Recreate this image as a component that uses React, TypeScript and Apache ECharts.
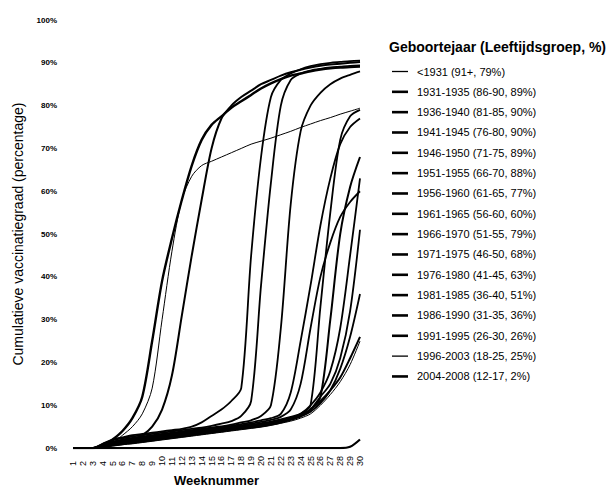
import React, { useEffect, useRef } from "react";
import * as echarts from "echarts";

const weeks = ["1","2","3","4","5","6","7","8","9","10","11","12","13","14","15","16","17","18","19","20","21","22","23","24","25","26","27","28","29","30"];

const groupNames = [
  "<1931 (91+, 79%)",
  "1931-1935 (86-90, 89%)",
  "1936-1940 (81-85, 90%)",
  "1941-1945 (76-80, 90%)",
  "1946-1950 (71-75, 89%)",
  "1951-1955 (66-70, 88%)",
  "1956-1960 (61-65, 77%)",
  "1961-1965 (56-60, 60%)",
  "1966-1970 (51-55, 79%)",
  "1971-1975 (46-50, 68%)",
  "1976-1980 (41-45, 63%)",
  "1981-1985 (36-40, 51%)",
  "1986-1990 (31-35, 36%)",
  "1991-1995 (26-30, 26%)",
  "1996-2003 (18-25, 25%)",
  "2004-2008 (12-17, 2%)",
];

const yLt1931 = [0,0,0,0.3,1.2,3,5,8,14,30,46,58,63.5,66,67,68,69,70,71,71.7,72.4,73.2,74,74.9,75.7,76.5,77.2,78,78.7,79.4];
const y1931 = [0,0,0,0.5,2,4,7,12,25,39,49,58,66,72,75.5,77.5,79.5,81,82.5,84,85.2,86.2,87,87.5,88,88.4,88.7,88.9,89,89.1];
const y1936 = [0,0,0,0.3,1,1.5,2,3,5,9,17,31,45,58,70,77,80,82,83.5,85,86,87,87.8,88.4,88.9,89.3,89.6,89.8,90,90.2];
const y1941 = [0,0,0,1,2,2.5,3,3.3,3.6,3.9,4.2,4.5,5,6,7.5,9,11,14,45,68,82,86,87.5,88.5,89.2,89.7,90,90.2,90.4,90.5];
const y1946 = [0,0,0,1,1.8,2.3,2.7,3,3.3,3.6,3.9,4.2,4.5,4.8,5.2,5.7,6.3,7.5,11,38,62,80,86,87.5,88.2,88.6,88.9,89.1,89.3,89.4];
const y1951 = [0,0,0,0.8,1.5,2,2.4,2.7,3,3.3,3.6,3.9,4.2,4.5,4.8,5.1,5.5,6,6.5,7.5,10,28,57,74,80,83,85,86.3,87.2,88];
const y1956 = [0,0,0,0.7,1.4,1.9,2.2,2.5,2.8,3.1,3.4,3.7,4,4.3,4.6,4.9,5.2,5.6,6,6.5,7,8,13,25,38,52,63,71,75,77];
const y1961 = [0,0,0,0.6,1.2,1.7,2,2.3,2.6,2.9,3.2,3.5,3.8,4.1,4.4,4.7,5,5.3,5.7,6.1,6.6,7.3,9,15,28,40,48,54,57.5,60];
const y1966 = [0,0,0,0.5,1.1,1.5,1.8,2.1,2.4,2.7,3,3.3,3.6,3.9,4.2,4.5,4.8,5.1,5.4,5.8,6.2,6.7,7.3,8,10,33,55,72,77.5,79];
const y1971 = [0,0,0,0.5,1,1.4,1.7,2,2.3,2.6,2.9,3.2,3.5,3.8,4.1,4.4,4.7,5,5.3,5.6,6,6.5,7,7.8,9,12,30,50,61,68];
const y1976 = [0,0,0,0.4,0.9,1.3,1.6,1.9,2.2,2.5,2.8,3.1,3.4,3.7,4,4.3,4.6,4.9,5.2,5.5,5.9,6.4,7,8,10,13,18,28,45,63];
const y1981 = [0,0,0,0.4,0.8,1.2,1.5,1.8,2.1,2.4,2.7,3,3.3,3.6,3.9,4.2,4.5,4.8,5.1,5.4,5.8,6.3,6.9,7.6,9,12,15,21,32,51];
const y1986 = [0,0,0,0.3,0.7,1,1.3,1.6,1.9,2.2,2.5,2.8,3.1,3.4,3.7,4,4.3,4.6,4.9,5.2,5.6,6.1,6.7,7.4,8.5,10.5,13.5,18.5,26,36];
const y1991 = [0,0,0,0.3,0.6,0.9,1.2,1.5,1.8,2.1,2.4,2.7,3,3.3,3.6,3.9,4.2,4.5,4.8,5.1,5.5,6,6.6,7.4,9,11,13.5,16.5,21,26];
const y1996 = [0,0,0,0.2,0.5,0.8,1,1.3,1.6,1.9,2.2,2.5,2.8,3.1,3.4,3.7,4,4.3,4.6,4.9,5.3,5.8,6.3,7,8,10,12.5,15.5,19.5,25];
const y2004 = [0,0,0,0,0,0,0,0,0,0,0,0,0,0,0,0,0,0,0,0,0,0,0,0,0,0,0,0,0.3,2];

const seriesValues = [yLt1931, y1931, y1936, y1941, y1946, y1951, y1956, y1961, y1966, y1971, y1976, y1981, y1986, y1991, y1996, y2004];
const lineWidths = [1, 2.4, 2, 1.8, 1.8, 1.8, 1.8, 1.8, 1.8, 2, 1.8, 1.8, 1.8, 2, 1, 2.2];

const FONT = "'Liberation Sans', Arial, sans-serif";

export default function App() {
  const ref = useRef<HTMLDivElement>(null);
  useEffect(() => {
    if (!ref.current) return;
    const chart = echarts.init(ref.current, undefined, { renderer: "svg" });
    chart.setOption({
      animation: false,
      backgroundColor: "#fff",
      textStyle: { fontFamily: FONT, color: "#000" },
      title: {
        text: "Geboortejaar (Leeftijdsgroep, %)",
        left: 389,
        top: 40,
        padding: 0,
        textStyle: { fontFamily: FONT, fontSize: 14, fontWeight: "bold", color: "#000" },
      },
      legend: {
        orient: "vertical",
        left: 392,
        top: 66,
        padding: 0,
        itemWidth: 16,
        itemHeight: 14,
        itemGap: 9.33,
        symbolKeepAspect: true,
        itemStyle: { color: "#000", borderWidth: 0 },
        lineStyle: { width: 0 },
        data: groupNames.map((name, i) => ({
          name,
          icon: "path://M0,0H16V" + (lineWidths[i] >= 1.5 ? 2.6 : 1.3) + "H0Z",
        })),
        textStyle: { fontFamily: FONT, fontSize: 11, color: "#000", padding: [0, 0, 0, 4] },
      },
      grid: { left: 73, right: 249, top: 20, bottom: 39 },
      xAxis: {
        type: "category",
        data: weeks,
        boundaryGap: false,
        axisLine: { show: false },
        axisTick: { show: false },
        splitLine: { show: false },
        axisLabel: { interval: 0, rotate: 90, align: "left", margin: 18, fontSize: 9, color: "#000", fontFamily: FONT },
        name: "Weeknummer",
        nameLocation: "middle",
        nameGap: 25,
        nameTextStyle: { fontSize: 13, fontWeight: "bold", color: "#000", fontFamily: FONT },
      },
      yAxis: {
        type: "value",
        min: 0,
        max: 100,
        interval: 10,
        axisLine: { show: false },
        axisTick: { show: false },
        splitLine: { show: false },
        axisLabel: { formatter: "{value}%", fontSize: 8, fontWeight: "bold", color: "#000", margin: 16, fontFamily: FONT },
        name: "Cumulatieve vaccinatiegraad (percentage)",
        nameLocation: "middle",
        nameGap: 48,
        nameRotate: 90,
        nameTextStyle: { fontSize: 14, color: "#000", fontFamily: FONT },
      },
      series: groupNames.map((name, i) => ({
        name,
        type: "line",
        data: seriesValues[i],
        symbol: "none",
        smooth: 0.3,
        itemStyle: { color: "#000" },
        lineStyle: { color: "#000", width: lineWidths[i] },
      })),
    });
    return () => chart.dispose();
  }, []);
  return <div ref={ref} style={{ position: "fixed", left: 0, top: 0, width: 609, height: 492 }} />;
}
